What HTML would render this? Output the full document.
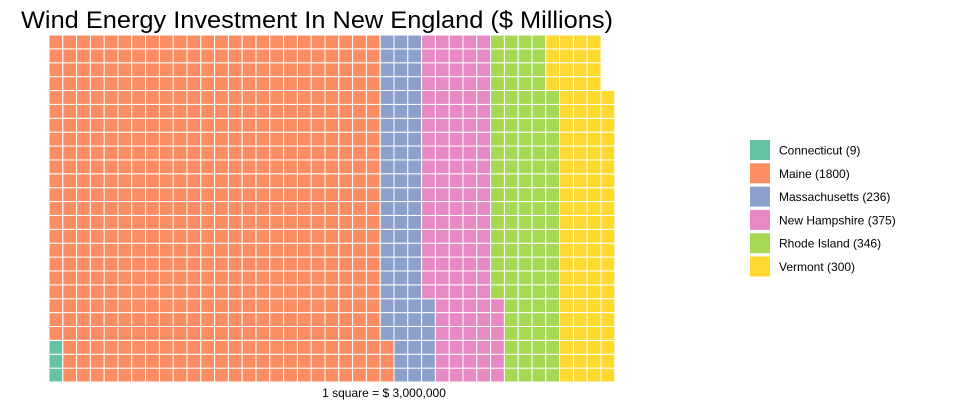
<!DOCTYPE html>
<html><head><meta charset="utf-8"><style>
body{margin:0;background:#fff;font-family:"Liberation Sans",sans-serif}
</style></head><body>
<svg id="c" width="958" height="407" xmlns="http://www.w3.org/2000/svg">
<text x="21" y="28" font-size="24" textLength="592" lengthAdjust="spacingAndGlyphs" fill="#000" font-family="Liberation Sans, sans-serif">Wind Energy Investment In New England ($ Millions)</text>
<text x="384" y="397" font-size="12" text-anchor="middle" fill="#000" font-family="Liberation Sans, sans-serif">1 square = $ 3,000,000</text>
<g id="cells"></g>
<g id="legend"></g>
</svg>
<script>
const categories = ["Connecticut","Maine","Massachusetts","New Hampshire","Rhode Island","Vermont"];
const values = [9,1800,236,375,346,300];
const colors = ["#66C2A5","#FC8D62","#8DA0CB","#E78AC3","#A6D854","#FFD92F"];
const unit = 3;
const NS="http://www.w3.org/2000/svg";
const rows=25, x0=49, yBottom=382, cw=13.8, ch=13.88;
const cells=document.getElementById('cells');
let idx=0;
values.forEach((v,i)=>{
  const n=Math.floor(v/unit);
  for(let k=0;k<n;k++){
    const col=Math.floor(idx/rows), row=idx%rows;
    const r=document.createElementNS(NS,'rect');
    r.setAttribute('x',x0+col*cw);
    r.setAttribute('y',yBottom-(row+1)*ch);
    r.setAttribute('width',cw);
    r.setAttribute('height',ch);
    r.setAttribute('fill',colors[i]);
    r.setAttribute('stroke','#fff');
    r.setAttribute('stroke-width','1');
    
    
    cells.appendChild(r);
    idx++;
  }
});
const lg=document.getElementById('legend');
categories.forEach((c,i)=>{
  const y=140+i*23.3;
  const r=document.createElementNS(NS,'rect');
  r.setAttribute('x',750);r.setAttribute('y',y);r.setAttribute('width',20);r.setAttribute('height',20);
  r.setAttribute('fill',colors[i]);
  
  
  lg.appendChild(r);
  const t=document.createElementNS(NS,'text');
  t.setAttribute('x',779);t.setAttribute('y',y+14.5);t.setAttribute('font-size','12');
  t.setAttribute('font-family','Liberation Sans, sans-serif');
  t.textContent=c+" ("+values[i]+")";
  
  
  lg.appendChild(t);
});
</script>
</body></html>
